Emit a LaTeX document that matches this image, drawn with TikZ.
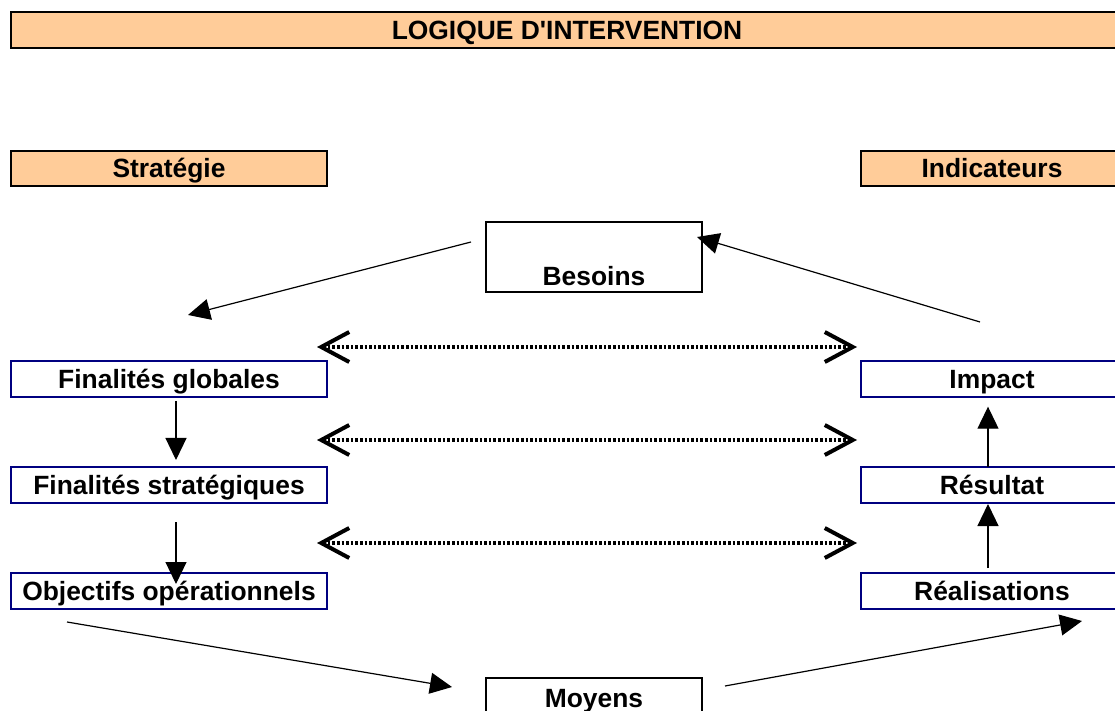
\documentclass[tikz,border=0pt]{standalone}
\usepackage{fontspec}
\setmainfont{Liberation Sans}
\usetikzlibrary{arrows.meta}
\definecolor{peach}{RGB}{255,204,153}
\definecolor{navyblue}{RGB}{0,0,128}
\begin{document}
\begin{tikzpicture}[x=0.5pt,y=-0.5pt,
  font=\fontsize{13.2}{15}\selectfont\bfseries,
  headbox/.style={draw=black,line width=0.9pt,fill=peach,inner sep=0pt,outer sep=0pt,
    text height=13.5pt,text depth=4.25pt},
  bluebox/.style={draw=navyblue,line width=0.7pt,inner sep=0pt,outer sep=0pt,
    text height=13.75pt,text depth=4.25pt},
  plainbox/.style={draw=black,line width=0.7pt,inner sep=0pt,outer sep=0pt,minimum width=108pt},
  leftcol/.style={minimum width=158pt},
  rightcol/.style={minimum width=131pt},
  arr/.style={line width=0.6pt,-{Triangle[length=11pt,width=10.5pt]}},
  dotarr/.style={line width=1.7pt,dash pattern=on 1.3pt off 1.0pt,
    {Straight Barb[length=14pt,width=15pt,line width=2pt]}-{Straight Barb[length=14pt,width=15pt,line width=2pt]}}
]
\useasboundingbox (0,0) rectangle (1115,711);
\clip (0,0) rectangle (1115,711);

% headers
\node[headbox,minimum width=556pt] (title) at (567,30) {LOGIQUE D\textquotesingle INTERVENTION};
\node[headbox,leftcol] (strat) at (169,168.5) {Stratégie};
\node[headbox,rightcol] (indic) at (992,168.5) {Indicateurs};

% left column
\node[bluebox,leftcol] (fg) at (169,379) {Finalités globales};
\node[bluebox,leftcol] (fs) at (169,485) {Finalités stratégiques};
\node[bluebox,leftcol] (oo) at (169,591) {Objectifs opérationnels};

% right column
\node[bluebox,rightcol] (imp) at (992,379) {Impact};
\node[bluebox,rightcol] (res) at (992,485) {Résultat};
\node[bluebox,rightcol] (real) at (992,591) {Réalisations};

% centre boxes
\node[plainbox,text height=31.75pt,text depth=3.25pt,anchor=north] (bes) at (594,222) {Besoins};
\node[plainbox,text height=14.75pt,text depth=6.25pt,anchor=north] (moy) at (594,678) {Moyens};

% free ends of the slanted arrows
\coordinate (a1s) at (471,242);
\coordinate (a1e) at (188,315);
\coordinate (a2s) at (980,322);
\coordinate (a2e) at (697,237);
\coordinate (a3s) at (67,622);
\coordinate (a3e) at (452,687);
\coordinate (a4s) at (725,686);
\coordinate (a4e) at (1082,621);

\draw[arr] (a1s) -- (a1e);
\draw[arr] (a2s) -- (a2e);
\draw[arr] (a3s) -- (a3e);
\draw[arr] (a4s) -- (a4e);

% vertical arrows
\draw[arr] ([xshift=3.5pt,yshift=-2pt]fg.south) -- ([xshift=3.5pt,yshift=3.5pt]fs.north);
\draw[arr] ([xshift=3.5pt,yshift=-9.5pt]fs.south) -- ([xshift=3.5pt,yshift=-5.5pt]oo.north);
\draw[arr] ([xshift=-2pt]res.north) -- ([xshift=-2pt,yshift=-4.85pt]imp.south);
\draw[arr] ([xshift=-2pt,yshift=2.5pt]real.north) -- ([xshift=-2pt,yshift=-0.5pt]res.south);

% dotted double arrows
\coordinate (d1l) at (317,347);
\coordinate (d1r) at (857,347);
\coordinate (d2l) at (317,440);
\coordinate (d2r) at (857,440);
\coordinate (d3l) at (317,543);
\coordinate (d3r) at (857,543);
\draw[dotarr] (d1l) -- (d1r);
\draw[dotarr] (d2l) -- (d2r);
\draw[dotarr] (d3l) -- (d3r);
\end{tikzpicture}
\end{document}
